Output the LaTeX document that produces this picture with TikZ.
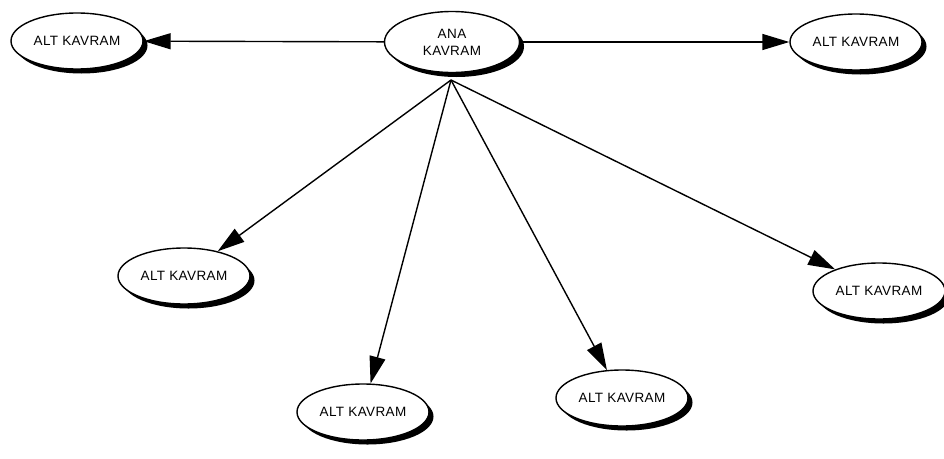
\documentclass[tikz,border=0pt]{standalone}
\usepackage{fontspec}
\setmainfont{Liberation Sans}[LetterSpace=3]
\usetikzlibrary{arrows.meta,shapes.geometric,shadows}
\begin{document}
\begin{tikzpicture}[x=1pt,y=-1pt,
  concept/.style={ellipse, draw=black, line width=1.4pt, fill=white,
    minimum width=132pt, minimum height=56pt, inner sep=0pt, align=center,
    font=\fontsize{13.5}{17}\selectfont,
    general shadow={fill=black, shadow xshift=4.5pt, shadow yshift=-4.5pt}},
  link/.style={line width=1.4pt, -{Triangle[length=27pt,width=16pt]}}]
\useasboundingbox (0,0) rectangle (944,458);
% main concept and its sub concepts
\node[concept, minimum width=135pt, minimum height=61pt] (main) at (452,42) {ANA\\KAVRAM};
\node[concept] (tl) at (77,41) {ALT KAVRAM};
\node[concept] (tr) at (856,42) {ALT KAVRAM};
\node[concept] (ml) at (184,276) {ALT KAVRAM};
\node[concept] (rt) at (879,291) {ALT KAVRAM};
\node[concept] (b1) at (363,412) {ALT KAVRAM};
\node[concept] (b2) at (622,398) {ALT KAVRAM};
% the lower links leave from one point under the main concept
\coordinate (hub) at (451,80);
\draw[link] (main) -- (tl);
\draw[link] (main) -- (tr);
\draw[link] (hub) -- (ml);
\draw[link] (hub) -- (b1);
\draw[link] (hub) -- (b2);
\draw[link] (hub) -- (rt);
\end{tikzpicture}
\end{document}
